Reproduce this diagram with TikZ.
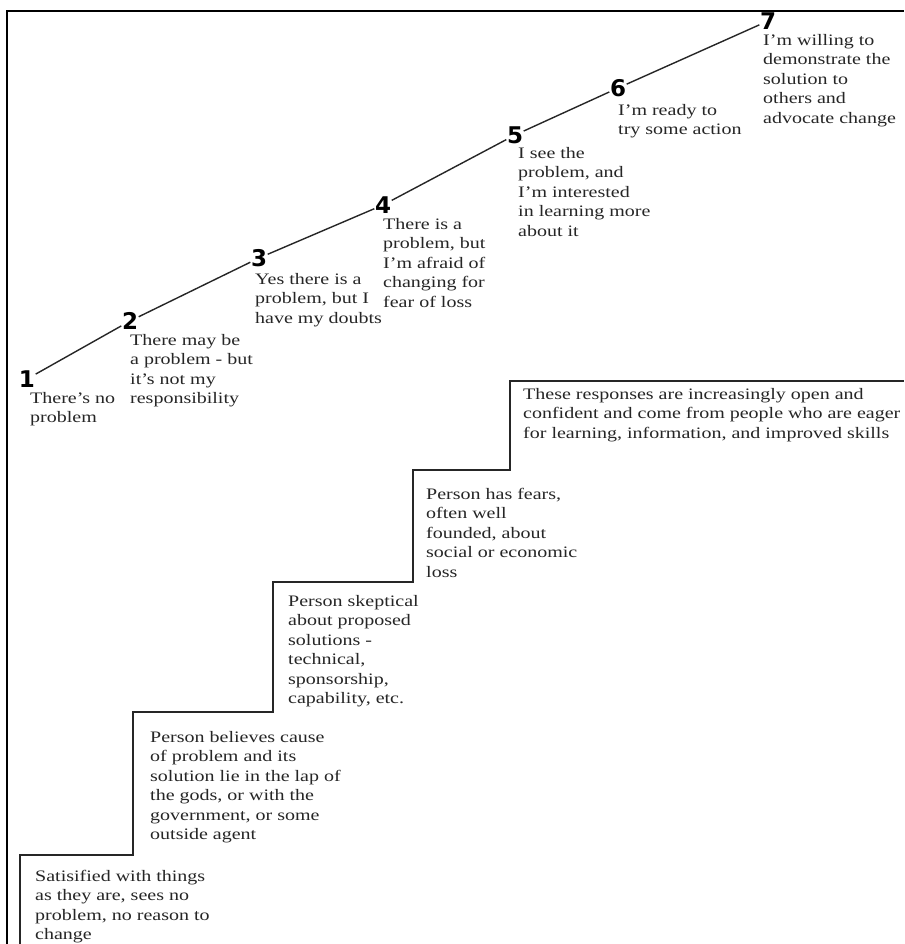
\documentclass[tikz,border=0pt]{standalone}
\usepackage{fontspec}
\setmainfont{Liberation Serif}[FakeStretch=1.25]
\newfontfamily\numfont{DejaVu Sans}
\begin{document}
\begin{tikzpicture}[x=1pt,y=-1pt,
  lbl/.style={anchor=north west, inner sep=0pt, align=left,
    font=\fontsize{16}{19.5}\selectfont, text=black!85,
    execute at begin node=\rule{0pt}{11pt}},
  num/.style={inner sep=0.5pt, font=\numfont\bfseries\fontsize{23}{23}\selectfont},
  frame/.style={line width=2.4pt, black},
  stair/.style={line width=1.8pt, black!85},
  ramp/.style={line width=1.4pt, black!85}]
\useasboundingbox[fill=white] (0,0) rectangle (904,944);
% frame
\coordinate (fb) at (7,944);
\coordinate (ftl) at (7,11);
\coordinate (ftr) at (904,11);
\draw[frame] (fb) -- (ftl) -- (ftr);
% numbers on the ramp
\node[num] (n1) at (27,379) {1};
\node[num] (n2) at (130,321) {2};
\node[num] (n3) at (259,258) {3};
\node[num] (n4) at (383,205) {4};
\node[num] (n5) at (515,135) {5};
\node[num] (n6) at (618,88) {6};
\node[num] (n7) at (768,21) {7};
\draw[ramp] (n1) -- (n2) -- (n3) -- (n4) -- (n5) -- (n6) -- (n7);
% upper labels
\node[lbl] (t1) at (30,392) {There's no\\problem};
\node[lbl] (t2) at (130,334) {There may be\\a problem - but\\it's not my\\responsibility};
\node[lbl] (t3) at (255,273) {Yes there is a\\problem, but I\\have my doubts};
\node[lbl] (t4) at (383,218) {There is a\\problem, but\\I'm afraid of\\changing for\\fear of loss};
\node[lbl] (t5) at (518,147) {I see the\\problem, and\\I'm interested\\in learning more\\about it};
\node[lbl] (t6) at (618,104) {I'm ready to\\try some action};
\node[lbl] (t7) at (763,34) {I'm willing to\\demonstrate the\\solution to\\others and\\advocate change};
% staircase
\coordinate (p0) at (20,944);
\coordinate (p1) at (20,855);
\coordinate (p2) at (133,855);
\coordinate (p3) at (133,712);
\coordinate (p4) at (273,712);
\coordinate (p5) at (273,582);
\coordinate (p6) at (413,582);
\coordinate (p7) at (413,470);
\coordinate (p8) at (510,470);
\coordinate (p9) at (510,381);
\coordinate (p10) at (904,381);
\draw[stair] (p0) -- (p1) -- (p2) -- (p3) -- (p4) -- (p5) -- (p6) -- (p7) -- (p8) -- (p9) -- (p10);
% step labels
\node[lbl] (s1) at (35,870) {Satisified with things\\as they are, sees no\\problem, no reason to\\change};
\node[lbl] (s2) at (150,731) {Person believes cause\\of problem and its\\solution lie in the lap of\\the gods, or with the\\government, or some\\outside agent};
\node[lbl] (s3) at (288,595) {Person skeptical\\about proposed\\solutions -\\technical,\\sponsorship,\\capability, etc.};
\node[lbl] (s4) at (426,488) {Person has fears,\\often well\\founded, about\\social or economic\\loss};
\node[lbl] (s5) at (523,388) {These responses are increasingly open and\\confident and come from people who are eager\\for learning, information, and improved skills};
\end{tikzpicture}
\end{document}
